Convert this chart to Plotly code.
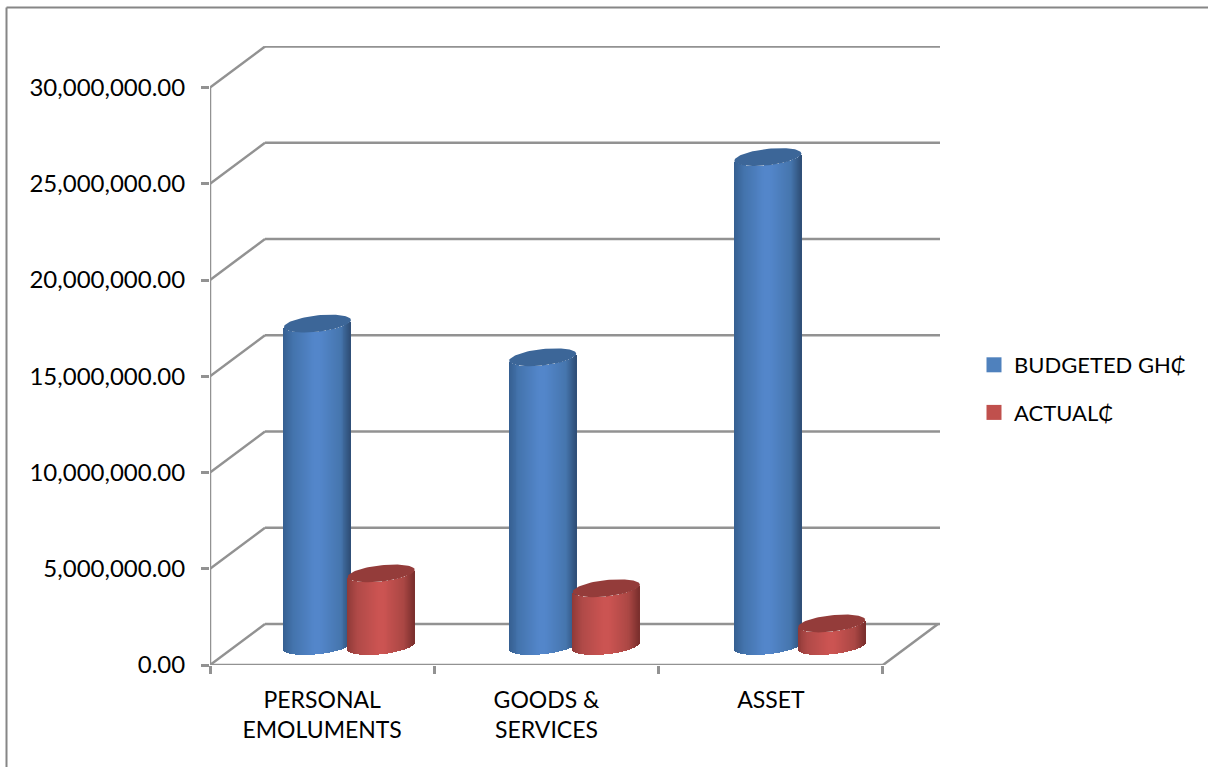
import numpy as np
import plotly.graph_objects as go

# ---- data ----
categories = ["PERSONAL<br>EMOLUMENTS", "GOODS &<br>SERVICES", "ASSET"]
budgeted = [16750000, 15000000, 25400000]
actual = [3770000, 3000000, 1170000]
y_ticks = [0, 5000000, 10000000, 15000000, 20000000, 25000000, 30000000]
series_names = ["BUDGETED GH₵", "ACTUAL₵"]

# ---- geometry (pixels of the page) ----
W, H = 1210, 767
L, R, T, B = 210.0, 940.0, 46.0, 665.0   # plot area
PX_CAT = 224.33                          # pixels per category
PX_UNIT = 577.5 / 30000000               # pixels per value unit
DEPTH_X, DEPTH_Y = 55.0, 41.0            # depth of the 3D floor
FLOOR_MID = 19.0                         # cylinder base centre above front floor edge
RX, RY, TILT = 33.5, 8.2, 3.5            # cylinder ellipse
OFFS = [0.479, 0.763]                    # centre of each series inside a category
CAT_STEP = 1.004                         # spacing of the cylinder groups
GRID = "#929292"
TEXT = "#000000"
FONT = "Lato"
FS = 24

x_max = (R - L) / PX_CAT
y_max = (B - T) / PX_UNIT
dx = DEPTH_X / PX_CAT
dy = DEPTH_Y / PX_UNIT
ux = RX / PX_CAT
uy = 1.0 / PX_UNIT

STOPS = [0.0, 0.15, 0.45, 0.55, 0.85, 1.0]
RAMPS = [
    ["#365f91", "#4474ad", "#5386ca", "#5386ca", "#4676ae", "#2f4f77"],
    ["#8f3a38", "#b04a48", "#cb5452", "#cb5452", "#aa4744", "#7a2f2d"],
]
TOPS = ["#3c6698", "#943c3a"]
LEGEND = ["#4f81bd", "#c0504d"]


def rgb(h):
    return np.array([int(h[i:i + 2], 16) for i in (1, 3, 5)], float)


def shade(ramp, f):
    c = [np.interp(f, STOPS, [rgb(h)[k] for h in ramp]) for k in range(3)]
    return "rgb(%d,%d,%d)" % tuple(c)


def px_x(p):
    return (p - L) / (R - L)


def px_y(p):
    return (B - p) / (B - T)


fig = go.Figure()
N = 68
floor = FLOOR_MID * uy
for s, vals in enumerate([budgeted, actual]):
    for c, v in enumerate(vals):
        cx = c * CAT_STEP + OFFS[s]
        u = np.linspace(-1 + 1 / N, 1 - 1 / N, N)
        xs = cx + u * ux
        arc = (RY * np.sqrt(1 - u ** 2) - TILT * u) * uy
        fig.add_trace(go.Bar(
            x=xs, y=[v] * N, base=floor - arc,
            width=2 * ux / N * 1.15,
            marker=dict(color=[shade(RAMPS[s], (a + 1) / 2) for a in u], line_width=0),
            showlegend=False, hoverinfo="skip",
        ))
        t = np.linspace(0, 2 * np.pi, 90)
        ex = cx + ux * np.cos(t)
        ey = floor + v + (RY * np.sin(t) + TILT * np.cos(t)) * uy
        fig.add_trace(go.Scatter(
            x=ex, y=ey, mode="lines", fill="toself", fillcolor=TOPS[s],
            line=dict(width=0, color=TOPS[s]), showlegend=False, hoverinfo="skip",
        ))

for s, name in enumerate(series_names):
    fig.add_trace(go.Scatter(
        x=[None], y=[None], mode="markers", name=name, legendgroup=name,
        marker=dict(symbol="square", size=15, color=LEGEND[s]),
    ))

shapes = []


def line(x0, y0, x1, y1, **kw):
    d = dict(type="line", x0=x0, y0=y0, x1=x1, y1=y1, layer="below",
             line=dict(color=GRID, width=2.5), xref="x", yref="y")
    d.update(kw)
    shapes.append(d)


n_cat = len(categories)
for v in y_ticks:
    line(0, v, dx, v + dy)
    line(dx, v + dy, x_max, v + dy)
line(0, y_ticks[0], 0, y_ticks[-1])
line(0, 0, n_cat, 0)
line(n_cat, 0, n_cat + dx, dy)

# outer frame of the picture
frame = dict(xref="paper", yref="paper", layer="below", line=dict(color="#868686", width=2))
line(px_x(6.5), px_y(H), px_x(6.5), px_y(7.5), **frame)
line(px_x(6.5), px_y(7.5), px_x(1208), px_y(7.5), **frame)

fig.update_layout(
    width=W, height=H, autosize=False,
    margin=dict(l=L, r=W - R, t=T, b=H - B, pad=0, autoexpand=False),
    paper_bgcolor="white", plot_bgcolor="white",
    barmode="overlay", bargap=0,
    font=dict(family=FONT, size=FS, color=TEXT),
    shapes=shapes,
    showlegend=True,
    legend=dict(
        x=px_x(974), y=px_y(344), xanchor="left", yanchor="top",
        font=dict(family=FONT, size=22, color=TEXT),
        itemwidth=30, tracegroupgap=16, bgcolor="rgba(0,0,0,0)",
    ),
    xaxis=dict(
        range=[0, x_max], showgrid=False, zeroline=False, showline=False,
        tickmode="array", tickvals=[c + 0.5 for c in range(n_cat)], ticktext=categories,
        ticks="", ticklen=0, tickangle=0, ticklabelstandoff=19,
        minor=dict(tickmode="array", tickvals=list(range(n_cat + 1)), ticks="outside",
                   ticklen=8, tickwidth=2.5, tickcolor=GRID, showgrid=False),
        tickfont=dict(family=FONT, size=23, color=TEXT),
    ),
    yaxis=dict(
        range=[0, y_max], showgrid=False, zeroline=False, showline=False,
        tickmode="array", tickvals=y_ticks, tickformat=",.2f",
        ticks="outside", ticklen=8, tickwidth=2.5, tickcolor=GRID, ticklabelstandoff=11,
        tickfont=dict(family=FONT, size=FS, color=TEXT),
    ),
)

fig.write_html("out.html", config={"displayModeBar": False},
               post_script="document.body.style.margin='0';document.body.style.overflow='hidden';")
